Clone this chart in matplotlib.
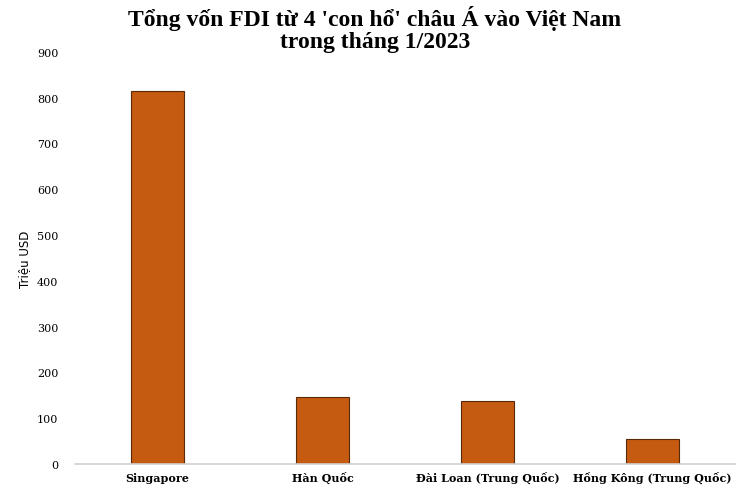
import matplotlib.pyplot as plt
import numpy as np

countries = ['Singapore', 'Hàn Quốc', 'Đài Loan (Trung Quốc)', 'Hồng Kông (Trung Quốc)']
fdi = [814, 147, 137, 55]
yticks = [0, 100, 200, 300, 400, 500, 600, 700, 800, 900]

fig = plt.figure(figsize=(7.5, 4.89), dpi=100)
ax = fig.add_axes([0.1, 0.049, 0.88, 0.843])

x = np.arange(len(countries))
ax.bar(x, fdi, width=0.32, color='#C55A11', edgecolor='#5a2a08', linewidth=0.8)

ax.set_xlim(-0.5, len(countries) - 0.5)
ax.set_ylim(0, 900)
ax.set_yticks(yticks)
ax.set_yticklabels([str(v) for v in yticks], family='DejaVu Serif', fontsize=8)
ax.set_xticks(x)
ax.set_xticklabels(countries, family='DejaVu Serif', fontweight='bold', fontsize=8)
for lbl in ax.get_xticklabels():
    lbl.set_va('baseline')
ax.tick_params(axis='both', length=0)
ax.tick_params(axis='y', pad=12)
ax.tick_params(axis='x', pad=12)

for s in ['top', 'right', 'left']:
    ax.spines[s].set_visible(False)
ax.spines['bottom'].set_color('#d0d0d0')
ax.spines['bottom'].set_linewidth(1.2)

ax.set_ylabel('Triệu USD', family='DejaVu Sans', fontsize=8.5, fontweight='medium', labelpad=4)

fig.text(0.5, 0.988, "Tổng vốn FDI từ 4 'con hổ' châu Á vào Việt Nam\ntrong tháng 1/2023",
         ha='center', va='top', family='Liberation Serif', fontweight='bold',
         fontsize=17, linespacing=1.08)

plt.savefig('out.png', dpi=100)
